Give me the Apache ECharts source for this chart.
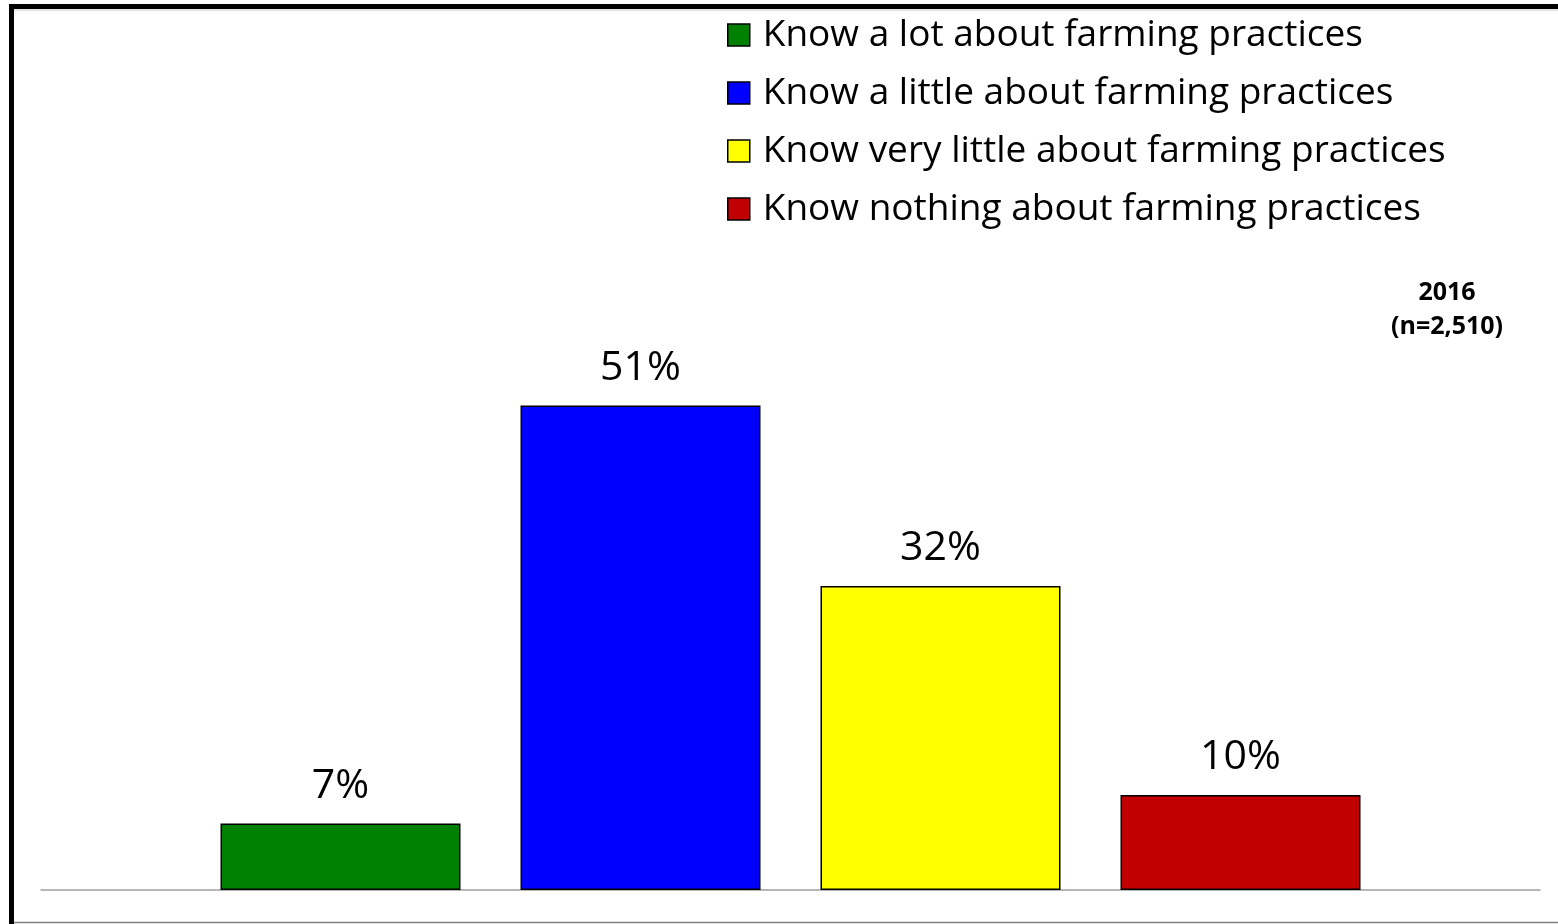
<!DOCTYPE html>
<html><head><meta charset="utf-8">
<script src="https://cdn.jsdelivr.net/npm/echarts@6/dist/echarts.min.js"></script>
<style>html,body{margin:0;padding:0;background:#fff}#c{width:1558px;height:924px}</style>
</head><body><div id="c"></div>
<script>
const categories = ['2016'];
const seriesNames = ['Know a lot about farming practices','Know a little about farming practices','Know very little about farming practices','Know nothing about farming practices'];
const seriesValues = [7, 51, 32, 10];
const seriesColors = ['#008000','#0000FF','#FFFF00','#C00000'];
const noteLines = ['2016', '(n=2,510)'];
const FONT = '"Open Sans", sans-serif';

const chart = echarts.init(document.getElementById('c'), null, {renderer:'canvas'});
chart.setOption({
  animation:false,
  backgroundColor:'#fff',
  grid:{left:41, right:18, top:320, bottom:34},
  legend:{
    orient:'vertical', left:722, top:5, itemGap:8, itemWidth:22, itemHeight:22,
    icon:'rect',
    textStyle:{fontFamily:FONT, fontSize:37, color:'#000', padding:[0,0,0,8], lineHeight:50},
    data:seriesNames.map((n,i)=>({name:n, itemStyle:{color:seriesColors[i], borderColor:'#000', borderWidth:1.5}}))
  },
  xAxis:{type:'category', data:categories, axisLabel:{show:false}, axisTick:{show:false},
    axisLine:{lineStyle:{color:'#A0A0A0', width:1.5}}},
  yAxis:{type:'value', min:0, max:60, show:false, splitLine:{show:false}},
  series:seriesNames.map((n,i)=>({
    name:n, type:'bar', data:[seriesValues[i]], barWidth:240, barGap:'25%',
    itemStyle:{color:seriesColors[i], borderColor:'#000', borderWidth:1.5},
    label:{show:true, position:'top', distance:17, formatter:'{c}%', fontFamily:FONT, fontSize:41, color:'#000'}
  })),
  graphic:[
    {type:'rect', shape:{x:9, y:4, width:5, height:920}, style:{fill:'#000'}},
    {type:'rect', shape:{x:9, y:4, width:1549, height:5}, style:{fill:'#000'}},
    {type:'line', shape:{x1:14, y1:10, x2:1558, y2:10}, style:{stroke:'#C8C8C8', lineWidth:1}},
    {type:'line', shape:{x1:14, y1:922.5, x2:1558, y2:922.5}, style:{stroke:'#808080', lineWidth:1.5}},
    {type:'text', x:1447, y:293, style:{text:noteLines[0], fontFamily:FONT, fontWeight:'bold', fontSize:25, fill:'#000', textAlign:'center', textVerticalAlign:'middle'}},
    {type:'text', x:1447, y:327, style:{text:noteLines[1], fontFamily:FONT, fontWeight:'bold', fontSize:25, fill:'#000', textAlign:'center', textVerticalAlign:'middle'}}
  ]
});
</script></body></html>
